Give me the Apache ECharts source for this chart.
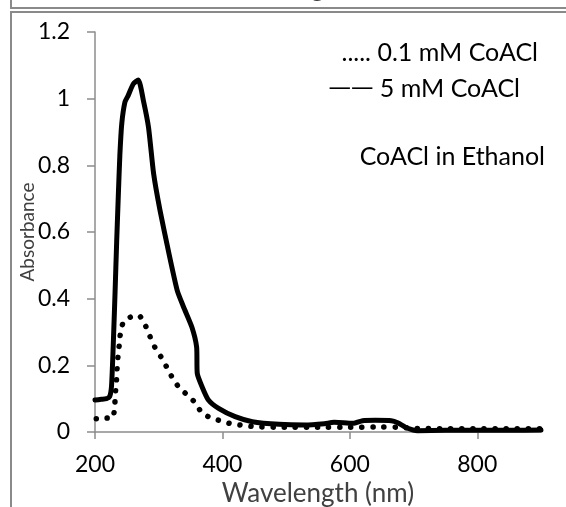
<!DOCTYPE html>
<html>
<head>
<meta charset="utf-8">
<script src="https://cdn.jsdelivr.net/npm/echarts@6/dist/echarts.min.js"></script>
<style>
html,body{margin:0;padding:0;background:#fff;}
#chart{width:566px;height:507px;}
</style>
</head>
<body>
<div id="chart"></div>
<script>
// 5 mM CoACl (solid)
var wavelength5 = [200, 210, 218, 223, 226, 229, 231.5, 234, 236.7, 239, 242, 247, 252, 260, 268, 276, 284, 292, 302, 315, 329, 339, 352, 359.5, 360.5, 368, 378, 394, 420, 447, 489, 530, 560, 575, 590, 605, 620, 640, 665, 675, 690, 706, 750, 800, 850, 900];
var absorb5 = [0.096, 0.098, 0.100, 0.106, 0.140, 0.28, 0.42, 0.57, 0.715, 0.83, 0.925, 0.990, 1.009, 1.044, 1.056, 0.994, 0.914, 0.775, 0.665, 0.545, 0.425, 0.375, 0.315, 0.255, 0.176, 0.136, 0.096, 0.071, 0.046, 0.031, 0.023, 0.021, 0.025, 0.029, 0.028, 0.026, 0.034, 0.035, 0.034, 0.028, 0.012, 0.004, 0.005, 0.005, 0.005, 0.006];
// 0.1 mM CoACl (dotted)
var wavelength01 = [202, 210, 218, 228, 230, 231, 232, 233.5, 234.5, 236, 238, 240, 245, 256, 269, 279, 286, 294, 304, 313, 322, 333, 347, 359, 368, 383, 398, 415, 433, 450, 500, 550, 600, 650, 680, 700, 750, 800, 850, 900];
var absorb01 = [0.040, 0.040, 0.042, 0.041, 0.060, 0.078, 0.116, 0.150, 0.186, 0.225, 0.260, 0.297, 0.332, 0.345, 0.349, 0.320, 0.288, 0.254, 0.224, 0.193, 0.161, 0.131, 0.108, 0.084, 0.056, 0.042, 0.033, 0.024, 0.020, 0.016, 0.014, 0.014, 0.014, 0.015, 0.014, 0.011, 0.010, 0.010, 0.010, 0.010];
var xTicks = [200, 400, 600, 800];
var legendDots = '.....';
var legendDash = '\u2014\u2014';
var legendNames = ['0.1 mM CoACl', '5 mM CoACl'];
var noteText = 'CoACl in Ethanol';
var xTitle = 'Wavelength (nm)';
var yTitle = 'Absorbance';

function pairs(xs, ys) { return xs.map(function (x, i) { return [x, ys[i]]; }); }

var FONT = 'Lato';
var chart = echarts.init(document.getElementById('chart'), null, {renderer: 'canvas'});
var axisGray = '#8c8c8c';
chart.setOption({
  animation: false,
  backgroundColor: '#ffffff',
  grid: {left: 95, right: 25, top: 32, bottom: 75, containLabel: false, outerBoundsMode: 'none'},
  xAxis: {
    type: 'value', min: 200, max: 900, interval: 200,
    name: xTitle, nameLocation: 'middle', nameGap: 49, nameMoveOverlap: false,
    nameTextStyle: {fontFamily: FONT, fontSize: 26, color: '#404040'},
    axisLine: {show: true, onZero: false, lineStyle: {color: axisGray, width: 1.5}},
    axisTick: {show: true, length: 7, customValues: xTicks, lineStyle: {color: axisGray, width: 1.5}},
    axisLabel: {customValues: xTicks, margin: 21, fontFamily: FONT, fontSize: 23, color: '#000'},
    splitLine: {show: false}
  },
  yAxis: {
    type: 'value', min: 0, max: 1.2, interval: 0.2,
    name: yTitle, nameLocation: 'middle', nameGap: 58, nameRotate: 90, nameMoveOverlap: false,
    nameTextStyle: {fontFamily: FONT, fontSize: 19, color: '#404040'},
    axisLine: {show: true, lineStyle: {color: axisGray, width: 1.5}},
    axisTick: {show: true, length: 8, lineStyle: {color: axisGray, width: 1.5}},
    axisLabel: {margin: 25, fontFamily: FONT, fontSize: 23, color: '#000',
      formatter: function (v) { return String(Math.round(v * 10) / 10); }},
    splitLine: {show: false}
  },
  series: [
    {
      name: legendNames[0], type: 'line', data: pairs(wavelength01, absorb01),
      showSymbol: false, smooth: 0.2, z: 2,
      lineStyle: {color: '#000', width: 5.5, type: [0.1, 11], cap: 'round', join: 'round'}
    },
    {
      name: legendNames[1], type: 'line', data: pairs(wavelength5, absorb5),
      showSymbol: false, smooth: 0.2, z: 3,
      lineStyle: {color: '#000', width: 5, cap: 'round', join: 'round'}
    }
  ],
  graphic: [
    {type: 'rect', shape: {x: 11, y: 12, width: 600, height: 600}, style: {fill: 'none', stroke: '#8a8a8a', lineWidth: 2}, silent: true},
    {type: 'polyline', shape: {points: [[11, 0], [11, 8], [570, 8]]}, style: {fill: 'none', stroke: '#8a8a8a', lineWidth: 2}, silent: true},
    {type: 'text', x: 308, y: 1, style: {text: xTitle, fontFamily: FONT, fontSize: 26, fill: '#404040', align: 'center', verticalAlign: 'bottom'}, silent: true},
    {type: 'text', x: 538, y: 53, style: {text: legendDots + ' ' + legendNames[0], fontFamily: FONT, fontSize: 25, fill: '#000', align: 'right', verticalAlign: 'middle'}, silent: true},
    {type: 'text', x: 520, y: 89, style: {
      text: '{d|' + legendDash + '}{t| ' + legendNames[1] + '}',
      align: 'right', verticalAlign: 'middle',
      rich: {
        d: {fontFamily: 'DejaVu Sans', fontSize: 22.5, fill: '#000'},
        t: {fontFamily: FONT, fontSize: 25, fill: '#000'}
      }}, silent: true},
    {type: 'text', x: 545, y: 157, style: {text: noteText, fontFamily: FONT, fontSize: 25, fill: '#000', align: 'right', verticalAlign: 'middle'}, silent: true}
  ]
});
</script>
</body>
</html>
